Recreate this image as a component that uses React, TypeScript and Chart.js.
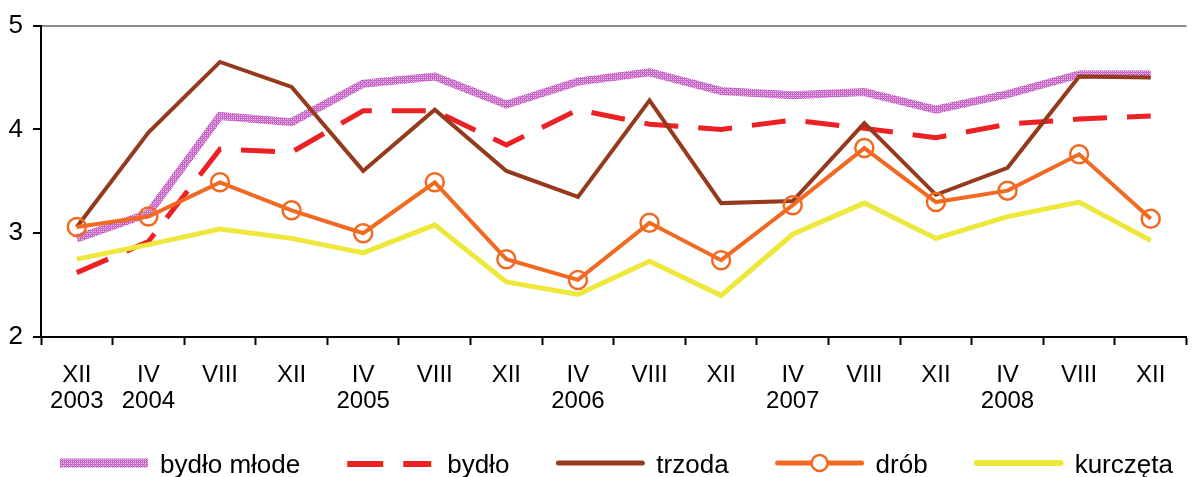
import React, { useEffect, useRef } from 'react';
import { Chart, registerables } from 'chart.js';

Chart.register(...registerables);

const months = ['XII', 'IV', 'VIII', 'XII', 'IV', 'VIII', 'XII', 'IV', 'VIII', 'XII', 'IV', 'VIII', 'XII', 'IV', 'VIII', 'XII'];
const years = ['2003', '2004', '', '', '2005', '', '', '2006', '', '', '2007', '', '', '2008', '', ''];

const bydloMlode = [2.95, 3.19, 4.13, 4.07, 4.44, 4.51, 4.24, 4.46, 4.55, 4.37, 4.33, 4.36, 4.19, 4.34, 4.53, 4.53];
const bydlo = [2.62, 2.92, 3.81, 3.78, 4.18, 4.18, 3.85, 4.19, 4.05, 4.0, 4.09, 4.01, 3.92, 4.05, 4.1, 4.13];
const trzoda = [3.06, 3.97, 4.65, 4.41, 3.6, 4.19, 3.6, 3.35, 4.28, 3.29, 3.31, 4.06, 3.37, 3.63, 4.51, 4.5];
const drob = [3.06, 3.16, 3.49, 3.22, 3.0, 3.49, 2.75, 2.55, 3.1, 2.74, 3.27, 3.82, 3.3, 3.41, 3.76, 3.14];
const kurczeta = [2.75, 2.89, 3.04, 2.95, 2.81, 3.08, 2.53, 2.41, 2.73, 2.4, 2.99, 3.29, 2.95, 3.16, 3.3, 2.93];

const yTicks = [2, 3, 4, 5];

const seriesNames = ['bydło młode', 'bydło', 'trzoda', 'drób', 'kurczęta'];

const FONT = '"Liberation Sans", Arial, Helvetica, sans-serif';
const RED = '#ED2024';
const BROWN = '#963A1E';
const ORANGE = '#F26A22';
const YELLOW = '#EEE83C';

function makePattern(ctx: CanvasRenderingContext2D): CanvasPattern | string {
  const c = document.createElement('canvas');
  c.width = 4;
  c.height = 4;
  const g = c.getContext('2d');
  if (!g) return '#cc77cc';
  g.fillStyle = '#c25ec2';
  g.fillRect(0, 0, 4, 4);
  g.fillStyle = '#f2c8f2';
  g.fillRect(1, 1, 1, 1);
  g.fillRect(3, 1, 1, 1);
  g.fillRect(1, 3, 1, 1);
  g.fillRect(3, 3, 1, 1);
  g.fillStyle = '#d88ed8';
  g.fillRect(2, 2, 1, 1);
  g.fillRect(0, 0, 1, 1);
  return ctx.createPattern(c, 'repeat') || '#cc77cc';
}

export default function App() {
  const ref = useRef<HTMLCanvasElement | null>(null);

  useEffect(() => {
    const canvas = ref.current;
    if (!canvas) return;
    const ctx = canvas.getContext('2d');
    if (!ctx) return;
    const pattern = makePattern(ctx);

    const labels = months.map((m, i) => (years[i] ? [m, years[i]] : m));

    const legendPlugin = {
      id: 'customLegend',
      afterDraw(chart: any) {
        const c = chart.ctx as CanvasRenderingContext2D;
        c.save();
        c.font = `26px ${FONT}`;
        c.textBaseline = 'alphabetic';
        c.textAlign = 'left';
        const yLine = 463;
        const yText = 473;
        let x = 60;
        const sampleW = 88;
        seriesNames.forEach((name, i) => {
          const x0 = x;
          const x1 = x + sampleW;
          c.save();
          c.setLineDash([]);
          if (i === 0) {
            c.fillStyle = pattern as any;
            c.fillRect(x0, yLine - 4.5, sampleW, 9);
          } else if (i === 1) {
            c.strokeStyle = RED;
            c.lineWidth = 6;
            c.lineCap = 'butt';
            c.setLineDash([36, 20]);
            c.beginPath();
            c.moveTo(x0, yLine + 1);
            c.lineTo(x1 - 4, yLine + 1);
            c.stroke();
          } else if (i === 2) {
            c.strokeStyle = BROWN;
            c.lineWidth = 5;
            c.lineCap = 'round';
            c.beginPath();
            c.moveTo(x0 + 2, yLine);
            c.lineTo(x1 - 2, yLine);
            c.stroke();
          } else if (i === 3) {
            c.strokeStyle = ORANGE;
            c.lineWidth = 5;
            c.lineCap = 'round';
            c.beginPath();
            c.moveTo(x0 + 2, yLine);
            c.lineTo(x1 - 2, yLine);
            c.stroke();
            c.lineWidth = 2.5;
            c.fillStyle = '#ffffff';
            c.beginPath();
            c.arc((x0 + x1) / 2, yLine, 8, 0, Math.PI * 2);
            c.fill();
            c.stroke();
          } else {
            c.strokeStyle = YELLOW;
            c.lineWidth = 6;
            c.lineCap = 'round';
            c.beginPath();
            c.moveTo(x0 + 2, yLine);
            c.lineTo(x1 - 2, yLine);
            c.stroke();
          }
          c.restore();
          const tx = x1 + 12;
          c.fillStyle = '#000';
          c.fillText(name, tx, yText);
          x = tx + c.measureText(name).width + 47;
        });
        c.restore();
      },
    };

    const chart = new Chart(ctx, {
      type: 'line',
      data: {
        labels,
        datasets: [
          {
            label: seriesNames[0],
            data: bydloMlode,
            borderColor: pattern as any,
            borderWidth: 8,
            pointRadius: 0,
            tension: 0,
            order: 4,
          },
          {
            label: seriesNames[1],
            data: bydlo,
            borderColor: RED,
            borderWidth: 5,
            borderDash: [34, 20],
            pointRadius: 0,
            tension: 0,
            order: 3,
          },
          {
            label: seriesNames[2],
            data: trzoda,
            borderColor: BROWN,
            borderWidth: 4,
            pointRadius: 0,
            tension: 0,
            order: 2,
          },
          {
            label: seriesNames[3],
            data: drob,
            borderColor: ORANGE,
            borderWidth: 4,
            pointRadius: 9,
            pointBorderWidth: 2.5,
            pointBorderColor: ORANGE,
            pointBackgroundColor: 'rgba(255,255,255,0)',
            pointStyle: 'circle',
            tension: 0,
            order: 1,
          },
          {
            label: seriesNames[4],
            data: kurczeta,
            borderColor: YELLOW,
            borderWidth: 5,
            pointRadius: 0,
            tension: 0,
            order: 0,
          },
        ],
      },
      options: {
        responsive: false,
        animation: false,
        events: [],
        layout: { padding: { top: 21, left: 0, right: 0, bottom: 0 } },
        plugins: {
          legend: { display: false },
          tooltip: { enabled: false },
          title: { display: false },
        },
        scales: {
          x: {
            type: 'category',
            offset: true,
            grid: {
              offset: true,
              drawOnChartArea: false,
              drawTicks: true,
              tickLength: 8,
              tickColor: '#000',
              tickWidth: 2,
            },
            border: { display: true, color: '#000', width: 2 },
            ticks: {
              color: '#000',
              font: { family: FONT, size: 24, lineHeight: 1.06 },
              padding: 18,
              maxRotation: 0,
              minRotation: 0,
              autoSkip: false,
            },
            afterFit(scale: any) {
              scale.height = 140;
            },
          },
          y: {
            min: 2,
            max: 5,
            afterBuildTicks(scale: any) {
              scale.ticks = yTicks.map((v) => ({ value: v }));
            },
            grid: {
              drawTicks: true,
              tickLength: 8,
              tickColor: '#000',
              tickWidth: 2,
              lineWidth: 2,
              color: (c: any) => (c.tick && c.tick.value === 5 ? '#8a8a8a' : 'rgba(0,0,0,0)'),
            },
            border: { display: true, color: '#000', width: 2 },
            ticks: {
              color: '#000',
              font: { family: FONT, size: 26 },
              padding: 10,
            },
            afterFit(scale: any) {
              scale.width = 41;
            },
          },
        },
      },
      plugins: [legendPlugin],
    });

    return () => {
      chart.destroy();
    };
  }, []);

  return (
    <div
      style={{
        position: 'fixed',
        left: 0,
        top: 0,
        width: 1193,
        height: 477,
        overflow: 'hidden',
        background: '#fff',
      }}
    >
      <canvas ref={ref} width={1198} height={477} style={{ display: 'block' }} />
    </div>
  );
}
